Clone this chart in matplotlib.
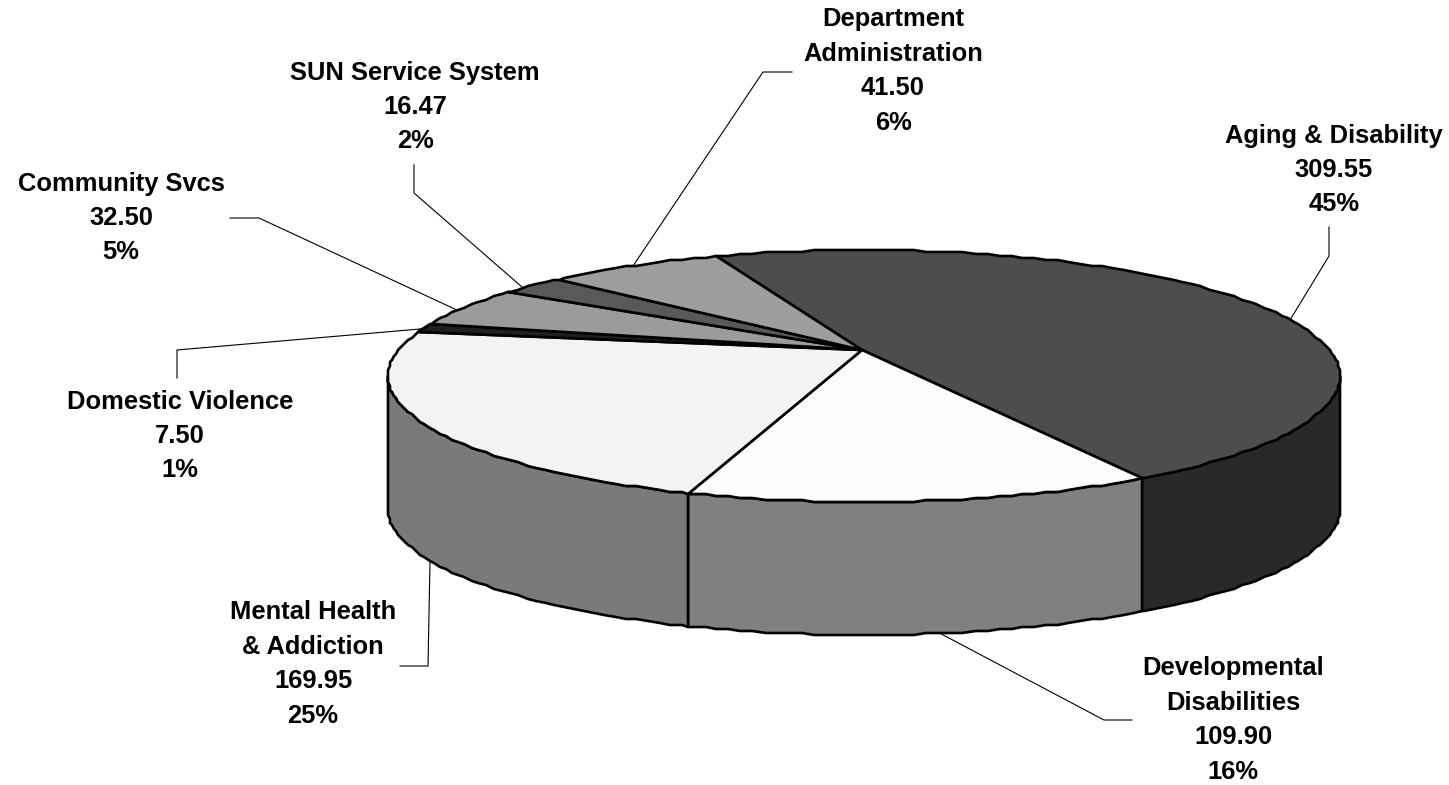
import numpy as np
import matplotlib
matplotlib.use("Agg")
import matplotlib.pyplot as plt
from matplotlib.patches import Polygon

plt.rcParams['font.family'] = ['Liberation Sans', 'DejaVu Sans']

# slices, clockwise from the start angle
names  = ["Aging & Disability", "Developmental\nDisabilities", "Mental Health\n& Addiction",
          "Domestic Violence", "Community Svcs", "SUN Service System", "Department\nAdministration"]
values = [309.55, 109.90, 169.95, 7.50, 32.50, 16.47, 41.50]
top_colors  = ["#4d4d4d", "#fcfcfc", "#f3f3f3", "#1f1f1f", "#9b9b9b", "#595959", "#9e9e9e"]
side_colors = ["#292929", "#808080", "#7a7a7a", "#111111", "#666666", "#333333", "#666666"]

# label centres and leader lines, in pixels
label_pos = [(1334, 170), (1233, 720), (313, 664), (180, 436), (121, 218), (415, 107), (893, 71)]
leaders = [
    [(1290, 320), (1329, 256), (1329, 227)],
    [(930, 628), (1104, 720), (1132, 720)],
    [(430, 562), (428, 666), (400, 666)],
    [(420, 329), (177, 350), (177, 378)],
    [(459, 311), (259, 218), (230, 218)],
    [(522, 287), (414, 193), (414, 165)],
    [(633, 266), (763, 72), (792, 72)],
]

W, H = 1449, 785
CX, CY, RX, RY = 864, 376, 476, 126   # top ellipse
HUB = (862, 350)                      # perspective moves the hub above the ellipse centre
DEPTH = 133
START = -18.0
LW = 1.9
STEP = 1.5    # the original outline is a coarse, slightly bumpy polygon
SNAP = 2.0


def rim(a0, a1):
    """Bumpy points on the top ellipse, angles in degrees clockwise from the top."""
    inner = np.arange(np.ceil(a0 / STEP), np.floor(a1 / STEP) + 1) * STEP
    t = np.radians(np.concatenate([[a0], inner, [a1]]))
    p = np.column_stack([CX + RX * np.sin(t), CY - RY * np.cos(t)])
    return np.round(p / SNAP) * SNAP


fig = plt.figure(figsize=(W / 100, H / 100), dpi=100)
ax = fig.add_axes([0, 0, 1, 1])
ax.set_xlim(0, W)
ax.set_ylim(H, 0)
ax.axis('off')

total = sum(values)
sweeps = np.array(values) / total * 360
edges = START + np.concatenate([[0], np.cumsum(sweeps)])

# side wall: only the front half of the rim is visible (90..270 deg)
for i in range(len(values)):
    a0, a1 = max(edges[i], 90), min(edges[i + 1], 270)
    if a1 <= a0:
        continue
    p = rim(a0, a1)
    wall = np.vstack([p, p[::-1] + [0, DEPTH]])
    ax.add_patch(Polygon(wall, closed=True, fc=side_colors[i], ec='black', lw=LW,
                         joinstyle='round', zorder=2))

# top face
for i in range(len(values)):
    p = np.vstack([[HUB], rim(edges[i], edges[i + 1])])
    ax.add_patch(Polygon(p, closed=True, fc=top_colors[i], ec='black', lw=LW,
                         joinstyle='round', zorder=3))

for line in leaders:
    xs, ys = zip(*line)
    ax.plot(xs, ys, color='black', lw=0.8, zorder=1)

for name, v, (x, y) in zip(names, values, label_pos):
    txt = f"{name}\n{v:.2f}\n{round(v / total * 100)}%"
    ax.text(x, y, txt, ha='center', va='center', fontsize=18.4, fontweight='bold',
            linespacing=1.55, color='black', zorder=5)

fig.savefig("out.png", dpi=100, facecolor='white')
